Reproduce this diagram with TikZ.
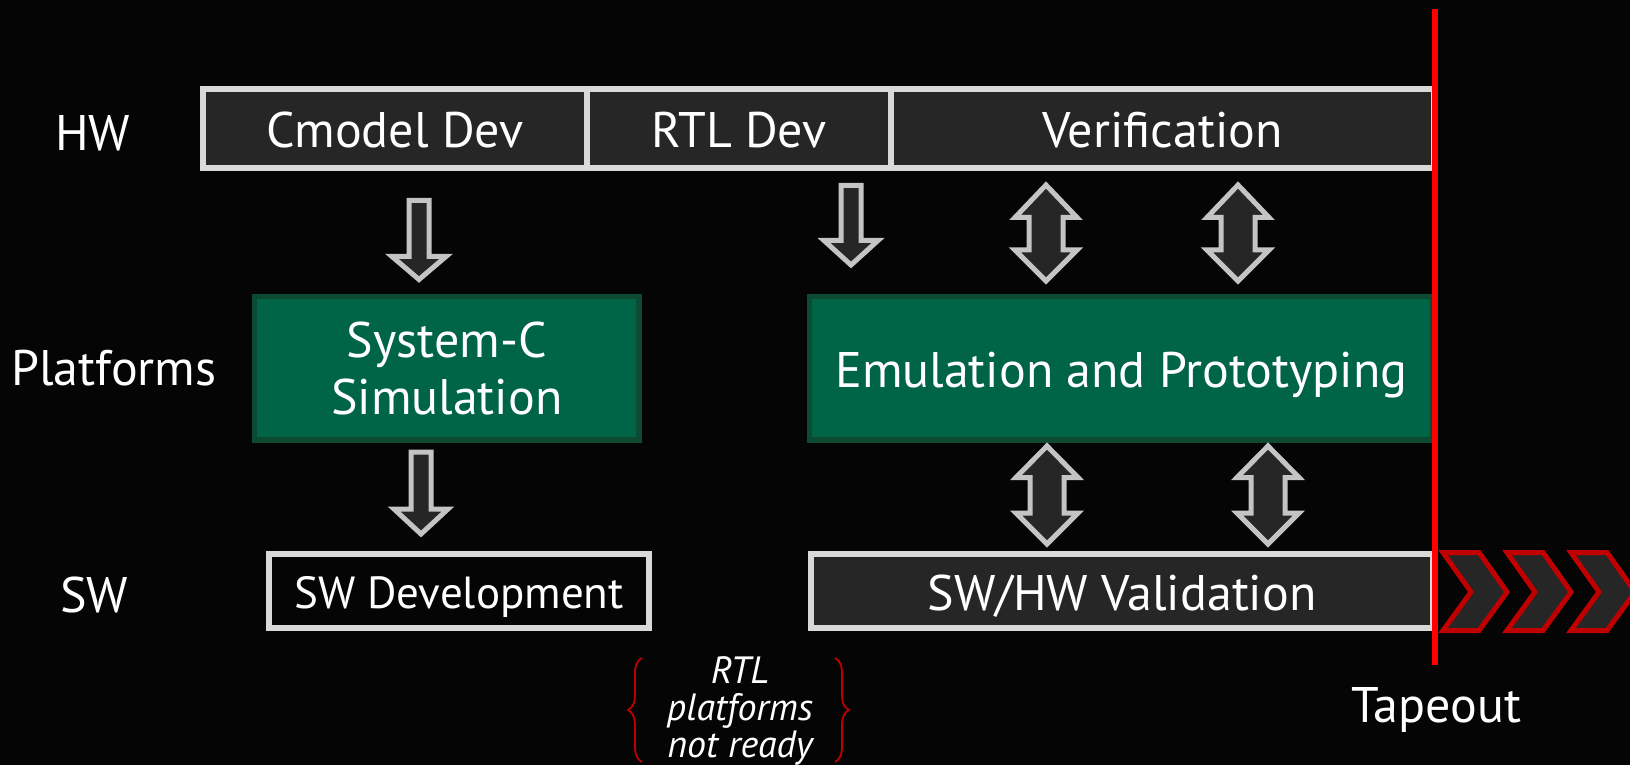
\documentclass[tikz,border=0pt]{standalone}
\usepackage{fontspec}
\setmainfont{PT Sans}
\usetikzlibrary{decorations.pathreplacing}

\definecolor{bg}{HTML}{050505}
\definecolor{panel}{HTML}{262626}
\definecolor{rim}{HTML}{D9D9D9}
\definecolor{arrowrim}{HTML}{C4C4C4}
\definecolor{leaf}{HTML}{006446}
\definecolor{leafrim}{HTML}{0C4A32}
\definecolor{tape}{HTML}{FF0000}
\definecolor{deepred}{HTML}{C00000}

% block arrow pointing down: centre x, shaft top, head base, tip
\newcommand\blkdown[4]{%
  \draw[blockarrow] (#1-10,#2) -- (#1+10,#2) -- (#1+10,#3) -- (#1+27,#3)
    -- (#1,#4) -- (#1-27,#3) -- (#1-10,#3) -- cycle;}
% block arrow with two heads: centre x, upper tip, upper base, lower base, lower tip
\newcommand\blkboth[5]{%
  \draw[blockarrow] (#1,#2) -- (#1+31,#3) -- (#1+17,#3) -- (#1+17,#4)
    -- (#1+31,#4) -- (#1,#5) -- (#1-31,#4) -- (#1-17,#4) -- (#1-17,#3)
    -- (#1-31,#3) -- cycle;}

\begin{document}
\begin{tikzpicture}[x=0.5pt,y=-0.5pt,
  every node/.style={text=white, inner sep=0pt},
  big/.style={font=\fontsize{25}{28.5}\selectfont},
  capline/.style={text height=19pt, text depth=0pt},
  greybox/.style={big, capline, draw=rim, line width=3pt, fill=panel},
  greenbox/.style={big, draw=leafrim, line width=2.75pt, fill=leaf, align=center},
  blockarrow/.style={draw=arrowrim, fill=panel, line width=2.5pt, line join=miter},
  chevron/.style={draw=deepred, fill=panel, line width=2.5pt, line join=miter},
  bracket/.style={draw=deepred, line width=0.9pt, decorate,
    decoration={brace, amplitude=7pt}},
]
% canvas
\fill[bg] (0,0) rectangle (1630,765);
\useasboundingbox (0,0) rectangle (1630,765);

% row labels
\node[big, capline] (hw)   at (92.5,132) {HW};
\node[big, capline] (plat) at (114,367)  {Platforms};
\node[big, capline] (sw)   at (94,593)   {SW};

% hardware row
\node[greybox, minimum width=192pt,   minimum height=39.5pt] (cmodel) at (395,128.5)    {Cmodel Dev};
\node[greybox, minimum width=152pt,   minimum height=39.5pt] (rtl)    at (739,128.5)    {RTL Dev};
\node[greybox, minimum width=271.5pt, minimum height=39.5pt] (verif)  at (1162.5,128.5) {Verification};

% platforms row
\node[greenbox, minimum width=192.25pt, minimum height=71.75pt] (sysc) at (446.75,368.25) {System-C\\Simulation};
\node[greenbox, capline, minimum width=311.75pt, minimum height=71.75pt] (emu) at (1121.25,368.25) {Emulation and Prototyping};

% software row
\node[greybox, fill=none, font=\fontsize{22.5}{27}\selectfont, text height=17pt,
      minimum width=190pt, minimum height=37pt] (swdev) at (459,591) {SW Development};
\node[greybox, minimum width=311pt, minimum height=37pt] (swhw) at (1122,591) {SW/HW Validation};

% hand-off arrows
\blkdown{419}{200.5}{256.5}{279.5}
\blkdown{421}{452}{509}{534}
\blkdown{851}{185.5}{240.5}{265}
\blkboth{1046}{185}{217.5}{250}{281}
\blkboth{1238}{185}{217.5}{250}{281}
\blkboth{1047}{446}{477.5}{513}{544}
\blkboth{1268}{446}{477.5}{513}{544}

% continuation chevrons after tapeout
\foreach \o in {0,64,128}{
  \draw[chevron] (1443+\o,552.5) -- (1479+\o,552.5) -- (1507+\o,592)
    -- (1479+\o,630.5) -- (1443+\o,630.5) -- (1471+\o,592) -- cycle;}

% tapeout marker
\coordinate (tapetop) at (1435,9);
\coordinate (tapebot) at (1435,665);
\draw[tape, line width=3pt] (tapetop) -- (tapebot);
\node[big, capline] (tapeout) at (1436,703) {Tapeout};

% gap note
\node[align=center, font=\itshape\fontsize{19}{18.4}\selectfont] (gap) at (740,711)
  {RTL\\platforms\\not ready};
\draw[bracket] (642,762) -- (642,658);
\draw[bracket] (835,658) -- (835,762);
\end{tikzpicture}
\end{document}
